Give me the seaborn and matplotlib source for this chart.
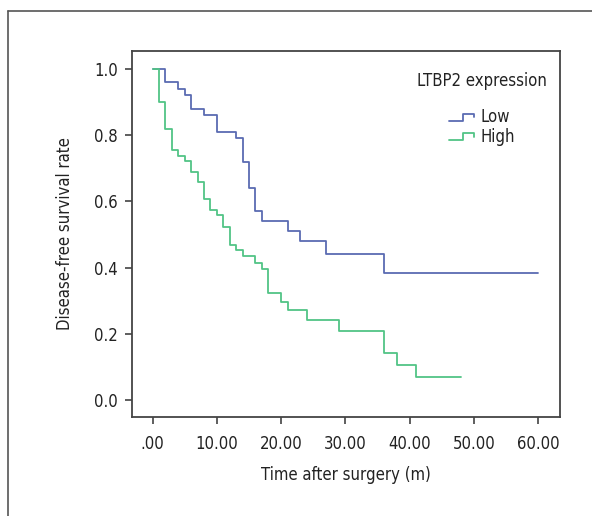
#!/usr/bin/env python3
"""Kaplan-Meier style disease-free survival curves by LTBP2 expression."""

import matplotlib as mpl
mpl.use("Agg")
import matplotlib.pyplot as plt
from matplotlib.legend_handler import HandlerBase
from matplotlib.lines import Line2D
import pandas as pd
import seaborn as sns

# step curves: time at which each level starts, and the level
LOW_TIME = [0, 2, 4, 5, 6, 8, 10, 13, 14, 15, 16, 17, 21, 23, 27, 36, 60]
LOW_SURV = [1.0, 0.96, 0.94, 0.92, 0.88, 0.86, 0.81, 0.79, 0.72, 0.64, 0.57,
            0.54, 0.51, 0.48, 0.44, 0.385, 0.385]
HIGH_TIME = [0, 1, 2, 3, 4, 5, 6, 7, 8, 9, 10, 11, 12, 13, 14, 16, 17, 18, 20,
             21, 24, 29, 36, 38, 41, 48]
HIGH_SURV = [1.0, 0.90, 0.82, 0.755, 0.737, 0.722, 0.69, 0.657, 0.607, 0.574,
             0.559, 0.524, 0.468, 0.453, 0.435, 0.415, 0.395, 0.324, 0.297,
             0.272, 0.242, 0.209, 0.141, 0.106, 0.070, 0.070]

GROUPS = ["Low", "High"]
COLORS = {"Low": "#5a6bb2", "High": "#52c486"}
X_TICKS = [0, 10, 20, 30, 40, 50, 60]
X_TICK_LABELS = [".00", "10.00", "20.00", "30.00", "40.00", "50.00", "60.00"]
Y_TICKS = [0.0, 0.2, 0.4, 0.6, 0.8, 1.0]
Y_TICK_LABELS = ["0.0", "0.2", "0.4", "0.6", "0.8", "1.0"]

FS = 12


class StepHandler(HandlerBase):
    """Draw the small step glyph used in the legend."""

    def create_artists(self, legend, orig_handle, xdescent, ydescent, width,
                       height, fontsize, trans):
        x0, x1 = -xdescent, -xdescent + width
        xm = x0 + width * 0.55
        ylo, yhi = -ydescent + height * 0.15, -ydescent + height * 0.75
        line = Line2D([x0, xm, xm, x1, x1], [ylo, ylo, yhi, yhi, yhi - height * 0.3],
                      color=orig_handle.get_color(), lw=1.3, transform=trans)
        return [line]


def main() -> None:
    sns.set_theme(style="ticks")
    plt.rcParams["font.family"] = ["DejaVu Sans"]
    plt.rcParams["font.stretch"] = "condensed"
    plt.rcParams["font.size"] = FS

    df = pd.concat([
        pd.DataFrame({"time": LOW_TIME, "surv": LOW_SURV, "group": "Low"}),
        pd.DataFrame({"time": HIGH_TIME, "surv": HIGH_SURV, "group": "High"}),
    ], ignore_index=True)

    fig = plt.figure(figsize=(5.92, 5.16), dpi=100)
    ax = fig.add_axes([132 / 592, 1 - 417 / 516, 428 / 592, 366 / 516])

    sns.lineplot(data=df, x="time", y="surv", hue="group", hue_order=GROUPS,
                 palette=COLORS, drawstyle="steps-post", estimator=None,
                 errorbar=None, sort=False, lw=1.3, ax=ax, legend=False)

    ax.set_xlim(-3.2, 63.4)
    ax.set_ylim(-0.051, 1.054)
    ax.set_xticks(X_TICKS, X_TICK_LABELS)
    ax.set_yticks(Y_TICKS, Y_TICK_LABELS)
    ax.tick_params(axis="x", pad=8)
    ax.tick_params(axis="y", pad=5)
    ax.tick_params(length=5, width=1.1, color="#333333", labelsize=FS,
                   labelcolor="#222222")
    for sp in ax.spines.values():
        sp.set_visible(True)
        sp.set_color("#444444")
        sp.set_linewidth(1.3)
    ax.set_xlabel("Time after surgery (m)", fontsize=FS, color="#222222", labelpad=9)
    ax.set_ylabel("Disease-free survival rate", fontsize=FS, color="#222222", labelpad=15)

    handles = [Line2D([], [], color=COLORS[g]) for g in GROUPS]
    leg = ax.legend(handles, GROUPS, title="LTBP2 expression", frameon=False,
                    handler_map={Line2D: StepHandler()}, loc="upper center",
                    bbox_to_anchor=(0.818, 0.96), fontsize=FS,
                    title_fontsize=FS, handlelength=1.5, handletextpad=0.4,
                    labelspacing=0.1, borderaxespad=0.0)
    leg._legend_box.align = "center"
    leg._legend_box.sep = 13
    leg.get_title().set_color("#222222")
    for t in leg.get_texts():
        t.set_color("#222222")

    # outer panel border (top and left edges visible in the crop)
    fig.add_artist(Line2D([8 / 592, 1.0], [1 - 11 / 516] * 2, color="#555555",
                          lw=1.2, transform=fig.transFigure))
    fig.add_artist(Line2D([8 / 592] * 2, [0.0, 1 - 11 / 516], color="#555555",
                          lw=1.2, transform=fig.transFigure))

    fig.savefig("out.png", dpi=100, facecolor="white")
    plt.close(fig)


if __name__ == "__main__":
    main()
